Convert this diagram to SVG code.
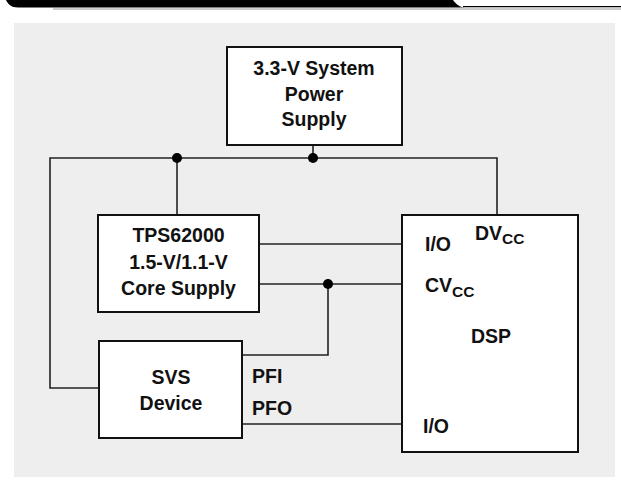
<svg xmlns="http://www.w3.org/2000/svg" width="621" height="486" viewBox="0 0 621 486">
<style>
.box{fill:#ffffff;stroke:#111111;stroke-width:2}
.wire{fill:none;stroke:#222222;stroke-width:1.6}
.dot{fill:#000000}
.t{font-family:"Liberation Sans",Arial,sans-serif;font-weight:bold;font-size:19.5px;fill:#111111}
.c{text-anchor:middle}
.sub{font-size:15.5px}
</style>
<rect width="621" height="486" fill="#ffffff"/>
<g id="header">
<path d="M6,0 L453,0 C456,4 459,7 465,7.5 L18,7.5 C11,7.5 8,4 6,0 Z" fill="#000000"/>
<line x1="463" y1="6.6" x2="621" y2="6.6" stroke="#000000" stroke-width="1.4"/>
<line x1="53" y1="9" x2="621" y2="9" stroke="#9a9a9a" stroke-width="1"/>
</g>
<rect id="panel" x="14" y="23" width="601" height="454" fill="#eeeeee"/>
<g id="connectors">
<path class="wire" d="M99,388 H50 V158 H497 V215"/>
<path class="wire" d="M313,145 V158"/>
<path class="wire" d="M177,158 V215"/>
<path class="wire" d="M259,244 H402"/>
<path class="wire" d="M259,284 H402"/>
<path class="wire" d="M328,284 V355 H242"/>
<path class="wire" d="M242,424 H402"/>
<circle class="dot" cx="313" cy="158" r="5"/>
<circle class="dot" cx="177" cy="158" r="5"/>
<circle class="dot" cx="328" cy="284" r="5"/>
</g>
<g id="power-supply">
<rect class="box" x="227" y="47" width="175" height="98"/>
<text class="t c" x="314" y="75">3.3-V System</text>
<text class="t c" x="314" y="101">Power</text>
<text class="t c" x="314" y="126">Supply</text>
</g>
<g id="tps62000">
<rect class="box" x="98" y="215" width="161" height="97"/>
<text class="t c" x="178.5" y="242">TPS62000</text>
<text class="t c" x="178.5" y="269">1.5-V/1.1-V</text>
<text class="t c" x="178.5" y="295">Core Supply</text>
</g>
<g id="svs">
<rect class="box" x="99" y="341" width="143" height="97"/>
<text class="t c" x="171" y="384">SVS</text>
<text class="t c" x="171" y="410">Device</text>
<text class="t" x="252" y="383">PFI</text>
<text class="t" x="252" y="415">PFO</text>
</g>
<g id="dsp">
<rect class="box" x="402" y="215" width="176" height="237"/>
<text class="t" x="475" y="240">DV<tspan class="sub" dy="4">CC</tspan></text>
<text class="t" x="425" y="251">I/O</text>
<text class="t" x="425" y="292">CV<tspan class="sub" dy="5">CC</tspan></text>
<text class="t c" x="491" y="343">DSP</text>
<text class="t" x="423" y="433">I/O</text>
</g>
</svg>
